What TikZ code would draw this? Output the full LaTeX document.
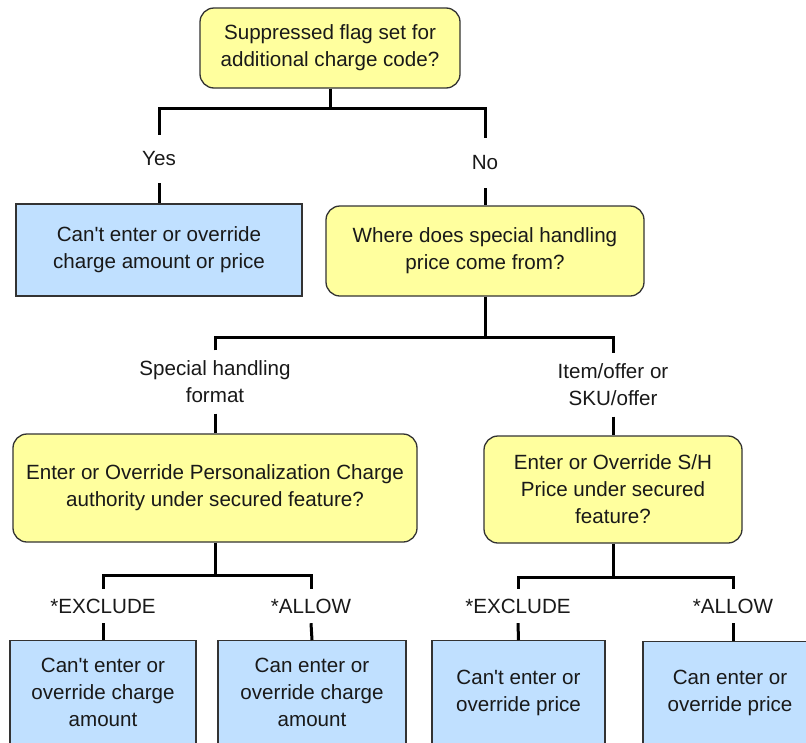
\documentclass[tikz,border=0pt]{standalone}
\usepackage{fontspec}
\setmainfont{Liberation Sans}
\begin{document}
\begin{tikzpicture}[x=1pt,y=-1pt,
  every node/.style={font=\fontsize{20.6}{27}\selectfont, text=black!90, align=center},
  ybox/.style={draw=black!80, line width=1.3pt, fill=yfill, rounded corners=14pt, inner sep=0pt},
  bbox/.style={draw=black!80, line width=1.3pt, fill=bfill, inner sep=0pt},
  lbl/.style={inner sep=0pt},
  conn/.style={line width=3pt, black}]
\definecolor{yfill}{RGB}{255,255,158}
\definecolor{bfill}{RGB}{192,224,255}
\useasboundingbox (0,0) rectangle (806,742);
\clip (0,0) rectangle (806,742);
\fill[white] (0,0) rectangle (806,742);

% boxes
\node[ybox, minimum width=260pt, minimum height=80pt] (top) at (330,48) {Suppressed flag set for\\additional charge code?};
\node[bbox, minimum width=286pt, minimum height=92pt] (yesbox) at (159,250) {Can\textquotesingle t enter or override\\charge amount or price};
\node[ybox, minimum width=318pt, minimum height=90pt] (where) at (485,251) {Where does special handling\\price come from?};
\node[ybox, minimum width=404pt, minimum height=108pt] (pers) at (215,488) {Enter or Override Personalization Charge\\authority under secured feature?};
\node[ybox, minimum width=258pt, minimum height=107pt] (sh) at (613,489.5) {Enter or Override S/H\\Price under secured\\feature?};
\node[bbox, minimum width=186pt, minimum height=110pt, anchor=north] (b1) at (103,640) {};
\node at (103,692) {Can\textquotesingle t enter or\\override charge\\amount};
\node[bbox, minimum width=188pt, minimum height=110pt, anchor=north] (b2) at (312,640) {};
\node at (312,692) {Can enter or\\override charge\\amount};
\node[bbox, minimum width=173pt, minimum height=110pt, anchor=north] (b3) at (518.5,640) {};
\node at (518.5,693) {Can\textquotesingle t enter or\\override price};
\node[bbox, minimum width=174pt, minimum height=110pt, anchor=north] (b4) at (730,641) {};
\node at (730,693) {Can enter or\\override price};

% labels
\node[lbl, minimum height=48pt] (yes) at (159,159) {Yes};
\node[lbl, minimum height=50pt] (no) at (485,163) {No};
\node[lbl, minimum height=63pt] (shf) at (215,382) {Special handling\\format};
\node[lbl, minimum height=63pt] (item) at (613,385) {Item/offer or\\SKU/offer};
\node[lbl, minimum height=34pt] (ex1) at (103,606) {*EXCLUDE};
\node[lbl, minimum height=34pt] (al1) at (311,606) {*ALLOW};
\node[lbl, minimum height=34pt] (ex2) at (518,606) {*EXCLUDE};
\node[lbl, minimum height=34pt] (al2) at (733,606) {*ALLOW};

% junctions
\coordinate (j1) at (330,108);
\coordinate (j2) at (485,337);
\coordinate (j3) at (215,575);
\coordinate (j4) at (613,577);

% connectors
\draw[conn] (top.south) -- (j1);
\draw[conn] (yes.north) |- (j1) -| (no.north);
\draw[conn] (yes.south) -- (yesbox.north);
\draw[conn] (no.south) -- (where.north);
\draw[conn] (where.south) -- (j2);
\draw[conn] (shf.north) |- (j2) -| (item.north);
\draw[conn] (shf.south) -- (pers.north);
\draw[conn] (item.south) -- (sh.north);
\draw[conn] (pers.south) -- (j3);
\draw[conn] (ex1.north) |- (j3) -| (al1.north);
\draw[conn] (ex1.south) -- (b1.north);
\draw[conn] (al1.south) -- (b2.north);
\draw[conn] (sh.south) -- (j4);
\draw[conn] (ex2.north) |- (j4) -| (al2.north);
\draw[conn] (ex2.south) -- (b3.north);
\draw[conn] (al2.south) -- (b4.north -| al2.south);
\end{tikzpicture}
\end{document}
